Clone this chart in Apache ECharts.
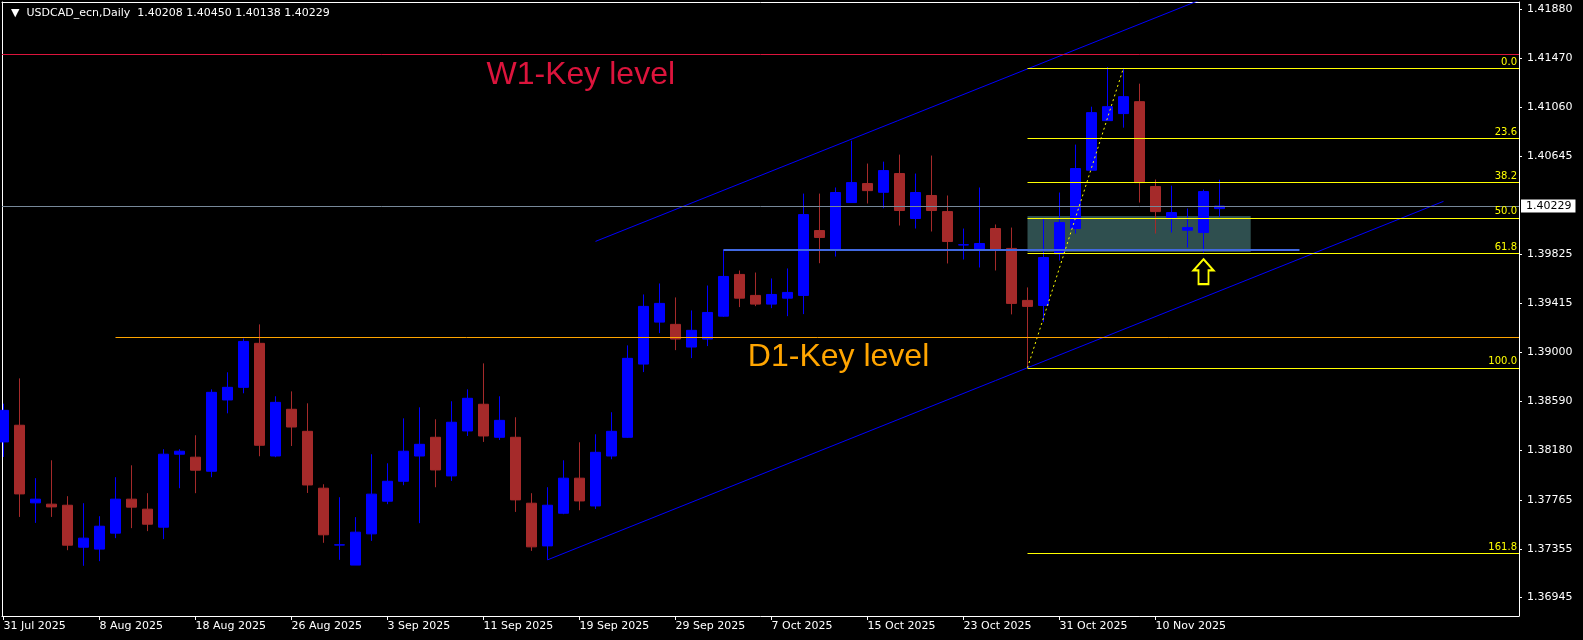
<!DOCTYPE html>
<html><head><meta charset="utf-8">
<script src="https://cdn.jsdelivr.net/npm/echarts@6/dist/echarts.min.js"></script>
<style>html,body{margin:0;padding:0;background:#000;}#chart{width:1583px;height:640px;}</style>
</head><body><div id="chart"></div>
<script>
// ---------- data ----------
const dates = ['31 Jul 2025','1 Aug 2025','4 Aug 2025','5 Aug 2025','6 Aug 2025','7 Aug 2025','8 Aug 2025','11 Aug 2025','12 Aug 2025','13 Aug 2025','14 Aug 2025','15 Aug 2025','18 Aug 2025','19 Aug 2025','20 Aug 2025','21 Aug 2025','22 Aug 2025','25 Aug 2025','26 Aug 2025','27 Aug 2025','28 Aug 2025','29 Aug 2025','1 Sep 2025','2 Sep 2025','3 Sep 2025','4 Sep 2025','5 Sep 2025','8 Sep 2025','9 Sep 2025','10 Sep 2025','11 Sep 2025','12 Sep 2025','15 Sep 2025','16 Sep 2025','17 Sep 2025','18 Sep 2025','19 Sep 2025','22 Sep 2025','23 Sep 2025','24 Sep 2025','25 Sep 2025','26 Sep 2025','29 Sep 2025','30 Sep 2025','1 Oct 2025','2 Oct 2025','3 Oct 2025','6 Oct 2025','7 Oct 2025','8 Oct 2025','9 Oct 2025','10 Oct 2025','13 Oct 2025','14 Oct 2025','15 Oct 2025','16 Oct 2025','17 Oct 2025','20 Oct 2025','21 Oct 2025','22 Oct 2025','23 Oct 2025','24 Oct 2025','27 Oct 2025','28 Oct 2025','29 Oct 2025','30 Oct 2025','31 Oct 2025','3 Nov 2025','4 Nov 2025','5 Nov 2025','6 Nov 2025','7 Nov 2025','10 Nov 2025','11 Nov 2025','12 Nov 2025','13 Nov 2025','14 Nov 2025'];

const opens  = [1.38251,1.38391,1.37740,1.37729,1.37720,1.37368,1.37352,1.37486,1.37771,1.37687,1.37536,1.38148,1.38123,1.38005,1.38603,1.38709,1.39078,1.38133,1.38525,1.38340,1.37863,1.37386,1.37218,1.37480,1.37754,1.37921,1.38133,1.38290,1.37966,1.38343,1.38567,1.38290,1.38290,1.37737,1.37379,1.37653,1.37947,1.37714,1.38133,1.38290,1.38904,1.39256,1.39237,1.39047,1.39114,1.39306,1.39656,1.39480,1.39407,1.39457,1.39480,1.40024,1.39865,1.40259,1.40418,1.40345,1.40502,1.40125,1.40318,1.40183,1.39903,1.39865,1.40041,1.39874,1.39438,1.39396,1.39829,1.40041,1.40530,1.40946,1.41005,1.41105,1.40393,1.40133,1.40027,1.40008,1.40208];
const highs  = [1.38572,1.38784,1.37947,1.38097,1.37796,1.37737,1.37628,1.37955,1.38055,1.37821,1.38190,1.38190,1.38307,1.38692,1.38835,1.39119,1.39237,1.38634,1.38675,1.38575,1.37896,1.37787,1.37620,1.38148,1.38072,1.38449,1.38541,1.38441,1.38592,1.38692,1.38910,1.38634,1.38458,1.37821,1.37871,1.38097,1.38248,1.38315,1.38500,1.39061,1.39488,1.39580,1.39463,1.39354,1.39563,1.39865,1.39689,1.39672,1.39622,1.39706,1.40334,1.40334,1.40385,1.40778,1.40586,1.40602,1.40661,1.40502,1.40653,1.40318,1.40041,1.40385,1.40075,1.40049,1.39547,1.40125,1.40343,1.40745,1.41063,1.41395,1.41388,1.41256,1.40452,1.40401,1.40209,1.40368,1.40450];
const lows   = [1.38125,1.37622,1.37572,1.37622,1.37343,1.37212,1.37251,1.37444,1.37528,1.37503,1.37436,1.37863,1.37821,1.37955,1.38491,1.38659,1.38131,1.38123,1.38217,1.37823,1.37405,1.37262,1.37218,1.37421,1.37729,1.37888,1.37570,1.37871,1.37924,1.38301,1.38251,1.38267,1.37664,1.37337,1.37262,1.37645,1.37678,1.37689,1.38106,1.38285,1.38837,1.39164,1.39021,1.38954,1.39055,1.39300,1.39382,1.39390,1.39373,1.39306,1.39323,1.39750,1.39806,1.40255,1.40251,1.40211,1.40066,1.40041,1.40016,1.39748,1.39781,1.39714,1.39689,1.39321,1.38873,1.39256,1.39773,1.39999,1.40528,1.40944,1.40887,1.40259,1.39999,1.40008,1.39882,1.39840,1.40138];
const closes = [1.38516,1.37815,1.37771,1.37706,1.37385,1.37444,1.37544,1.37771,1.37704,1.37561,1.38148,1.38173,1.38014,1.38667,1.38709,1.39094,1.38223,1.38583,1.38376,1.37890,1.37472,1.37388,1.37494,1.37813,1.37921,1.38173,1.38231,1.38016,1.38416,1.38617,1.38301,1.38432,1.37765,1.37371,1.37720,1.37947,1.37756,1.38164,1.38340,1.38952,1.39388,1.39413,1.39114,1.39187,1.39337,1.39639,1.39457,1.39407,1.39488,1.39505,1.40158,1.39966,1.40343,1.40426,1.40359,1.40527,1.40192,1.40343,1.40192,1.39932,1.39905,1.39915,1.39865,1.39413,1.39388,1.39798,1.40091,1.40544,1.41013,1.41063,1.41147,1.40426,1.40183,1.40175,1.40049,1.40351,1.40229];

const xLabelBars = [0,6,12,18,24,30,36,42,48,54,60,66,72];
const priceTicks = ['1.41880','1.41470','1.41060','1.40645','1.39825','1.39415','1.39000','1.38590','1.38180','1.37765','1.37355','1.36945'];
const symbolName = 'USDCAD_ecn,Daily';

const w1Level = 1.41500;
const d1Level = 1.39125;
const d1StartBar = 7;
const fibRatios = ['0.0','23.6','38.2','50.0','61.8','100.0','161.8'];
const fibLow = 1.38873, fibHigh = 1.41388, fibStartBar = 64, fibEndBar = 70;
const zoneCorners = [[64, 1.40146], [77.95, 1.39844]];
const supportLine = [[45, 1.39861], [81, 1.39861]];
const channelLower = [[34, 1.37262], [90, 1.40269]];
const channelUpper = [[37, 1.39933], [76, 1.42023]];
const arrowPoint = [75, 1.39679];
const labelTexts = ['W1-Key level', 'D1-Key level'];
const labelAnchors = [[30.16, 1.41330], [46.49, 1.38966]];

// ---------- chart ----------
const xMin = -0.09375, xMax = 94.71875, yMin = 1.36791, yMax = 1.41941;
const last = dates.length - 1;
const candleData = dates.map((d, i) => [i, opens[i], closes[i], lows[i], highs[i]]);
const header = '\u25BC  ' + symbolName + '  ' + [opens[last], highs[last], lows[last], closes[last]].map(v => v.toFixed(5)).join(' ');

const fibRange = fibHigh - fibLow;
const fibLines = fibRatios.map(r => {
  const p = fibHigh - parseFloat(r) / 100 * fibRange;
  return [
    { coord: [fibStartBar, p], lineStyle: { color: '#FFFF00', width: 1, type: 'solid' },
      label: { show: true, position: 'insideEndTop', formatter: r, color: '#FFFF00', fontSize: 10, fontFamily: 'DejaVu Sans', distance: [2, 1] } },
    { coord: [xMax, p] }
  ];
});

const axisFont = { color: '#fff', fontSize: 11, fontFamily: 'DejaVu Sans' };

const option = {
  backgroundColor: '#000',
  animation: false,
  title: { text: header, left: 6, top: 3, textStyle: { color: '#fff', fontSize: 11, fontWeight: 'normal', fontFamily: 'DejaVu Sans' } },
  grid: { left: 2, right: 64, top: 2, bottom: 24, containLabel: false },
  xAxis: [{
    type: 'value', min: xMin, max: xMax, position: 'bottom',
    axisLine: { show: true, onZero: false, lineStyle: { color: '#fff', width: 1 } },
    axisTick: { show: true, customValues: xLabelBars, length: 4, lineStyle: { color: '#fff' } },
    axisLabel: Object.assign({ show: true, customValues: xLabelBars, align: 'left', margin: 5, formatter: v => dates[Math.round(v)] || '' }, axisFont),
    splitLine: { show: false }
  }, {
    type: 'value', min: xMin, max: xMax, position: 'top',
    axisLine: { show: true, onZero: false, lineStyle: { color: '#fff', width: 1 } },
    axisTick: { show: false }, axisLabel: { show: false }, splitLine: { show: false }
  }],
  yAxis: [{
    type: 'value', min: yMin, max: yMax, position: 'right', scale: true,
    axisLine: { show: true, onZero: false, lineStyle: { color: '#fff', width: 1 } },
    axisTick: { show: true, customValues: priceTicks.map(Number), length: 3, lineStyle: { color: '#fff' } },
    axisLabel: Object.assign({ show: true, customValues: priceTicks.map(Number), margin: 8, formatter: v => v.toFixed(5) }, axisFont),
    splitLine: { show: false }
  }, {
    type: 'value', min: yMin, max: yMax, position: 'left', scale: true,
    axisLine: { show: true, onZero: false, lineStyle: { color: '#fff', width: 1 } },
    axisTick: { show: false }, axisLabel: { show: false }, splitLine: { show: false }
  }],
  series: [
    {
      name: 'zone', type: 'line', data: [], z: 1, silent: true,
      markArea: { silent: true, itemStyle: { color: '#2F4F4F', opacity: 1 },
        data: [[{ coord: zoneCorners[0] }, { coord: zoneCorners[1] }]] }
    },
    {
      name: 'USDCAD', type: 'candlestick', data: candleData, barWidth: 10, z: 2, silent: true,
      itemStyle: { color: '#0000FF', color0: '#A52A2A', borderColor: '#0000FF', borderColor0: '#A52A2A', borderWidth: 1 }
    },
    {
      name: 'levels', type: 'line', data: [], z: 3, silent: true,
      markLine: {
        silent: true, symbol: ['none', 'none'], animation: false, precision: 6,
        label: { show: false },
        data: [
          { yAxis: w1Level, lineStyle: { color: '#DC143C', width: 1, type: 'solid' }, label: { show: false } },
          [{ coord: [d1StartBar, d1Level], lineStyle: { color: '#FFA500', width: 1, type: 'solid' }, label: { show: false } }, { coord: [xMax, d1Level] }],
          { yAxis: closes[last], lineStyle: { color: '#778899', width: 1, type: 'solid' },
            label: { show: true, position: 'end', formatter: closes[last].toFixed(5), backgroundColor: '#fff', color: '#000', fontSize: 11, fontFamily: 'DejaVu Sans', padding: [1, 4, 1, 5], distance: 2 } },
          [{ coord: supportLine[0], lineStyle: { color: '#4169E1', width: 2, type: 'solid' }, label: { show: false } }, { coord: supportLine[1] }]
        ].concat(fibLines)
      }
    },
    { name: 'channelLower', type: 'line', data: channelLower, symbol: 'none', silent: true, z: 3, lineStyle: { color: '#0000FF', width: 1 } },
    { name: 'channelUpper', type: 'line', data: channelUpper, symbol: 'none', silent: true, z: 3, lineStyle: { color: '#0000FF', width: 1 } },
    { name: 'fibTrend', type: 'line', data: [[fibStartBar, fibLow], [fibEndBar, fibHigh]], symbol: 'none', silent: true, z: 4, lineStyle: { color: '#FFFF00', width: 1, type: [2, 3] } },
    {
      name: 'arrow', type: 'scatter', data: [arrowPoint], silent: true, z: 6,
      symbol: 'path://M11,0 L22,12 L16.5,12 L16.5,27 L5.5,27 L5.5,12 L0,12 Z', symbolSize: [20, 25], symbolKeepAspect: false,
      itemStyle: { color: '#000', borderColor: '#FFFF00', borderWidth: 2, opacity: 1 }
    },
    {
      name: 'texts', type: 'scatter', silent: true, z: 6, symbolSize: 1,
      itemStyle: { color: 'rgba(0,0,0,0)', opacity: 1 },
      data: labelTexts.map((t, i) => ({ value: labelAnchors[i], name: t, label: { color: i === 0 ? '#DC143C' : '#FFA500' } })),
      label: { show: true, position: 'right', distance: 0, formatter: '{b}', fontSize: 32, fontFamily: 'Liberation Sans, Arial, sans-serif', opacity: 1 }
    }
  ]
};

const chart = echarts.init(document.getElementById('chart'), null, { renderer: 'canvas' });
chart.setOption(option);
</script>
</body></html>
